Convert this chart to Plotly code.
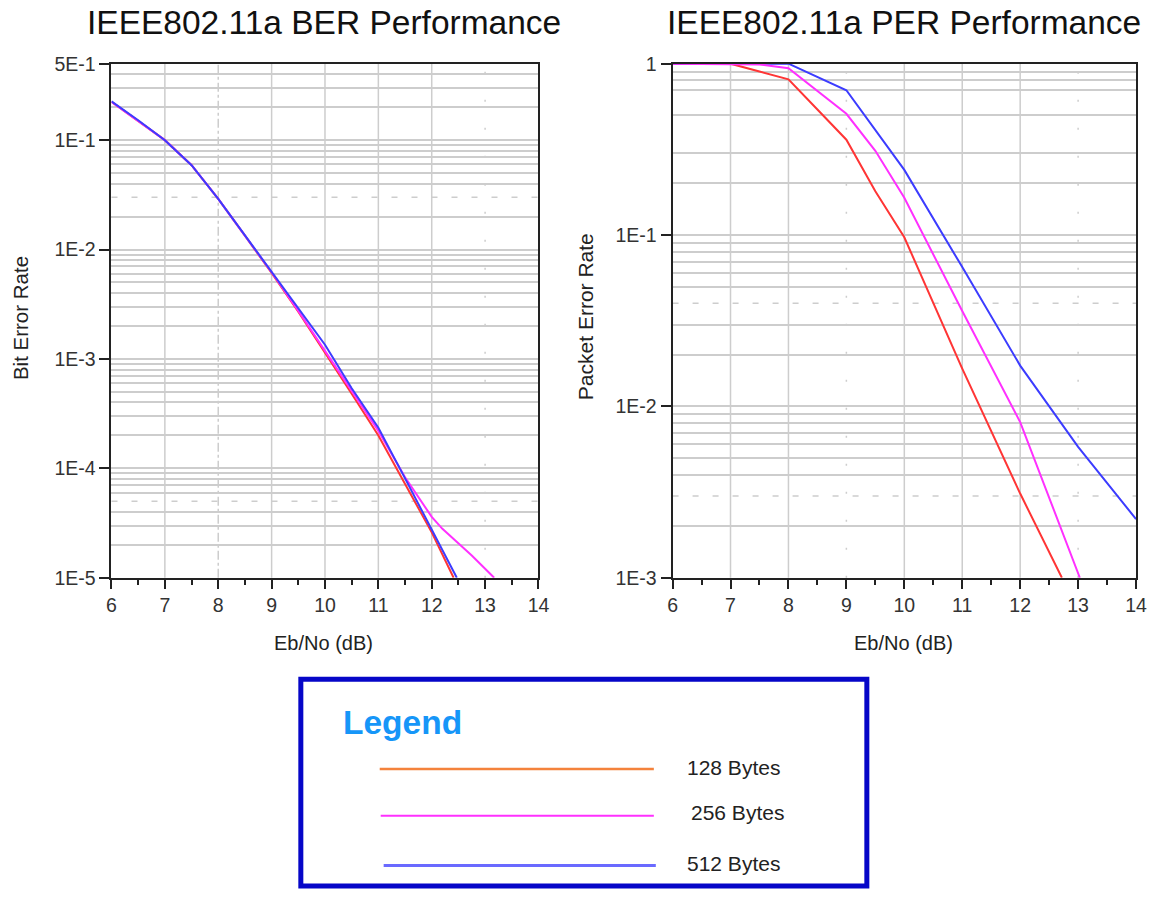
"""IEEE802.11a BER / PER performance"""

import plotly.graph_objects as go

# ---- data ----
x_ticks = [6, 7, 8, 9, 10, 11, 12, 13, 14]

ebno_ber_128 = [6, 6.5, 7, 7.5, 8, 8.5, 9, 9.5, 10, 10.5, 11, 11.5, 12, 12.41]
ber_128 = [0.224, 0.151, 0.100, 0.059, 0.029, 0.0134, 6.1e-3, 2.7e-3, 1.15e-3,
           4.8e-4, 2.0e-4, 7.2e-5, 2.6e-5, 1.0e-5]

ebno_ber_256 = [6, 6.5, 7, 7.5, 8, 8.5, 9, 9.5, 10, 10.5, 11, 11.5, 12, 12.2,
                12.75, 13.17]
ber_256 = [0.224, 0.151, 0.100, 0.059, 0.029, 0.0134, 6.2e-3, 2.75e-3, 1.18e-3,
           5.0e-4, 2.2e-4, 8.3e-5, 3.6e-5, 2.8e-5, 1.6e-5, 1.0e-5]

ebno_ber_512 = [6, 6.5, 7, 7.5, 8, 8.5, 9, 9.5, 10, 10.5, 11, 11.5, 12, 12.47]
ber_512 = [0.226, 0.152, 0.100, 0.059, 0.029, 0.0135, 6.3e-3, 2.9e-3, 1.35e-3,
           5.4e-4, 2.35e-4, 8.1e-5, 2.8e-5, 1.0e-5]

ebno_per_128 = [6, 7, 7.5, 8, 8.5, 9, 9.5, 10, 11, 12, 12.72]
per_128 = [1.0, 1.0, 0.90, 0.81, 0.54, 0.36, 0.18, 0.097, 0.0166, 3.1e-3, 1.0e-3]

ebno_per_256 = [6, 7, 7.5, 8, 9, 9.5, 10, 11, 12, 13.03]
per_256 = [1.0, 1.0, 0.99, 0.94, 0.51, 0.31, 0.165, 0.036, 8.1e-3, 1.0e-3]

ebno_per_512 = [6, 7, 8, 9, 10, 11, 12, 13, 14]
per_512 = [1.0, 1.0, 1.0, 0.70, 0.24, 0.065, 0.0173, 5.8e-3, 2.2e-3]

ber_tickvals = [0.5, 0.1, 0.01, 1e-3, 1e-4, 1e-5]
ber_ticktext = ["5E-1", "1E-1", "1E-2", "1E-3", "1E-4", "1E-5"]
per_tickvals = [1, 0.1, 0.01, 1e-3]
per_ticktext = ["1", "1E-1", "1E-2", "1E-3"]

legend_labels = ["128 Bytes", "256 Bytes", "512 Bytes"]

# ---- styles ----
W, H = 1150, 898
FONT = "Liberation Sans, Arial, sans-serif"
GRID = "#cdcdcd"
FRAME = "#222222"
RED, MAGENTA, BLUE = "#ff3535", "#ff30ff", "#3c3cff"
LEG_COLORS = ["#f4823c", "#ff30ff", "#6a6aff"]


def px(x):
    return x / W


def py(y):
    return 1 - y / H


def minor_vals(decades, skip, top):
    vals = []
    for k in decades:
        for m in range(2, 10):
            v = round(m * 10.0 ** k, 12)
            if v <= top and all(abs(v - s) > 1e-15 for s in skip):
                vals.append(v)
    return vals


fig = go.Figure()

# BER traces
for xs, ys, c in [(ebno_ber_128, ber_128, RED),
                  (ebno_ber_256, ber_256, MAGENTA),
                  (ebno_ber_512, ber_512, BLUE)]:
    fig.add_trace(go.Scatter(x=xs, y=ys, mode="lines", line=dict(color=c, width=2),
                             xaxis="x", yaxis="y", showlegend=False, hoverinfo="skip"))

# PER traces
for xs, ys, c in [(ebno_per_128, per_128, RED),
                  (ebno_per_512, per_512, BLUE),
                  (ebno_per_256, per_256, MAGENTA)]:
    fig.add_trace(go.Scatter(x=xs, y=ys, mode="lines", line=dict(color=c, width=2),
                             xaxis="x2", yaxis="y2", showlegend=False, hoverinfo="skip"))

tickfont = dict(family=FONT, size=19.5, color="#333333")

xaxis_common = dict(
    range=[6, 14], tickmode="array", tickvals=x_ticks, ticks="outside", ticklen=9,
    tickwidth=2, tickcolor=FRAME, showline=True, linecolor=FRAME, linewidth=2,
    mirror=True, showgrid=False, zeroline=False, tickfont=tickfont,
    minor=dict(dtick=0.5, ticks="outside", ticklen=5, tickwidth=2,
               tickcolor=FRAME, showgrid=False),
)
yaxis_common = dict(
    type="log", tickmode="array", ticks="outside", ticklen=10, tickwidth=2,
    tickcolor=FRAME, showline=True, linecolor=FRAME, linewidth=2, mirror=True,
    showgrid=True, gridcolor=GRID, gridwidth=1.5, zeroline=False, tickfont=tickfont,
)

fig.update_layout(
    width=W, height=H,
    margin=dict(l=0, r=0, t=0, b=0),
    paper_bgcolor="white", plot_bgcolor="white",
    font=dict(family=FONT, color="#222222"),
    xaxis=dict(xaxis_common, domain=[px(108), px(541)], anchor="y"),
    yaxis=dict(yaxis_common, domain=[py(581), py(54)], anchor="x",
               range=[-5, -0.30103], tickvals=ber_tickvals, ticktext=ber_ticktext,
               minor=dict(tickvals=minor_vals(range(-5, 0), [3e-2, 5e-5], 0.5),
                          showgrid=True, gridcolor=GRID, gridwidth=1.5, ticks="")),
    xaxis2=dict(xaxis_common, domain=[px(677), px(1147)], anchor="y2"),
    yaxis2=dict(yaxis_common, domain=[py(581), py(54)], anchor="x2",
                range=[-3, 0], tickvals=per_tickvals, ticktext=per_ticktext,
                minor=dict(tickvals=minor_vals(range(-3, 0), [4e-2, 3e-3, 0.6, 0.4], 1),
                           showgrid=True, gridcolor=GRID, gridwidth=1.5, ticks="")),
)

shapes = []


def vline(xref, yref, v, dash="solid"):
    shapes.append(dict(type="line", xref=xref, yref=yref + " domain", x0=v, x1=v,
                       y0=0, y1=1, layer="below",
                       line=dict(color=GRID, width=1.5, dash=dash)))


def hdash(xref, yref, v):
    shapes.append(dict(type="line", xref=xref + " domain", yref=yref, x0=0, x1=1,
                       y0=v, y1=v, layer="below",
                       line=dict(color=GRID, width=1.5, dash="6px,14px")))


# vertical grid, left
for v in [7, 9, 10, 11, 12]:
    vline("x", "y", v)
vline("x", "y", 8, "dashdot")
vline("x", "y", 13, "2px,26px")
# vertical grid, right
for v in [7, 8, 10, 11, 12]:
    vline("x2", "y2", v)
vline("x2", "y2", 9, "2px,26px")
vline("x2", "y2", 13, "2px,26px")
# dashed horizontal lines
hdash("x", "y", 3e-2)
hdash("x", "y", 5e-5)
hdash("x2", "y2", 4e-2)
hdash("x2", "y2", 3e-3)

# legend box
shapes.append(dict(type="rect", xref="paper", yref="paper",
                   x0=px(300), x1=px(874), y0=py(897), y1=py(685),
                   line=dict(color="#0606c8", width=5), fillcolor="white"))
leg_rows = [(380, 658, 777, 2.5), (381, 658, 825, 2), (384, 660, 876, 3)]
for (x0, x1, yy, w), c in zip(leg_rows, LEG_COLORS):
    shapes.append(dict(type="line", xref="paper", yref="paper",
                       x0=px(x0), x1=px(x1), y0=py(yy), y1=py(yy),
                       line=dict(color=c, width=w)))

fig.update_layout(shapes=shapes)

annotations = [
    dict(text="IEEE802.11a BER Performance", x=px(323), y=py(12),
         font=dict(size=33.5, color="#111111")),
    dict(text="IEEE802.11a PER Performance", x=px(912), y=py(12),
         font=dict(size=33.5, color="#111111")),
    dict(text="Eb/No (dB)", x=px(323), y=py(648), font=dict(size=20, color="#222222")),
    dict(text="Eb/No (dB)", x=px(911), y=py(648), font=dict(size=20, color="#222222")),
    dict(text="Bit Error Rate", x=px(15), y=py(315), textangle=-90,
         font=dict(size=20.5, color="#222222")),
    dict(text="Packet Error Rate", x=px(589), y=py(313), textangle=-90,
         font=dict(size=21, color="#222222")),
    dict(text="<b>Legend</b>", x=px(341), y=py(729), xanchor="left",
         font=dict(size=33.5, color="#1696f8")),
]
for label, (lx, ly) in zip(legend_labels, [(690, 775), (694, 822), (690, 874)]):
    annotations.append(dict(text=label, x=px(lx), y=py(ly), xanchor="left",
                            font=dict(size=21, color="#222222")))

for a in annotations:
    a.setdefault("xanchor", "center")
    a.update(xref="paper", yref="paper", yanchor="middle", showarrow=False)
    a["font"]["family"] = FONT

fig.update_layout(annotations=annotations)

# the page body keeps its default 8px margin otherwise
fig.write_html("out.html", config={"displayModeBar": False},
               post_script="document.body.style.margin = '0';")
